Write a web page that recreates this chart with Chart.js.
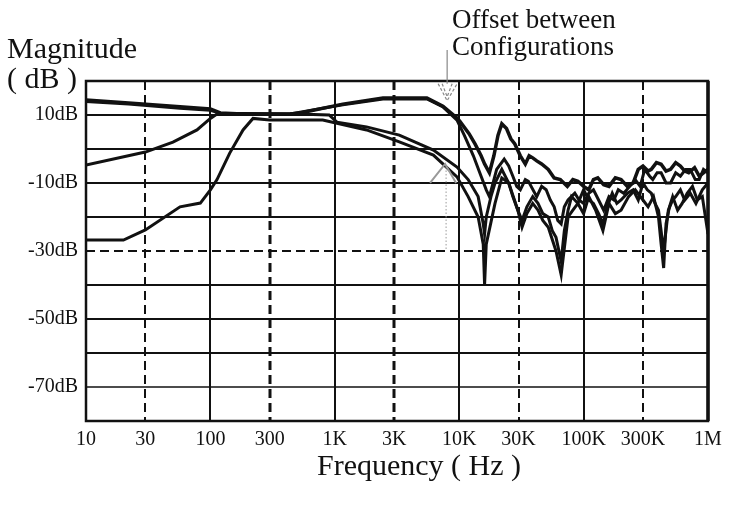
<!DOCTYPE html>
<html lang="en">
<head>
  <meta charset="UTF-8">
  <title>Magnitude vs Frequency</title>
  <script src="https://cdn.jsdelivr.net/npm/chart.js"></script>
  <style>
    body { margin: 0; background: #fff; }
    #wrap { width: 731px; height: 505px; }
  </style>
</head>
<body>
  <div id="wrap"><canvas id="magChart" width="731" height="505"></canvas></div>
<script>
// tick labels
const xTicks = [10, 30, 100, 300, 1000, 3000, 10000, 30000, 100000, 300000, 1000000];
const xTickLabels = ["10", "30", "100", "300", "1K", "3K", "10K", "30K", "100K", "300K", "1M"];
const yTicks = [10, -10, -30, -50, -70];
const yGrid = [10, 0, -10, -20, -30, -40, -50, -60, -70];

// trace A: thick upper curve
const freqA = [10, 22, 57, 100, 120, 200, 437, 526, 1160, 2440, 5500, 7400, 9600, 10100, 12000, 13400, 15000, 16000, 17500, 19000, 20500, 22000, 24000, 26000, 28000, 31000, 34000, 36500, 39000, 42000, 46000, 52000, 58000, 65000, 74000, 82000, 90000, 100000, 110000, 120000, 130000, 145000, 160000, 180000, 200000, 225000, 250000, 275000, 300000, 330000, 350000, 385000, 420000, 460000, 500000, 550000, 600000, 650000, 700000, 780000, 850000, 920000, 1000000];
const dbA = [14.4, 13.5, 12.4, 11.8, 10.6, 10.2, 10.3, 10.6, 13.2, 15, 15, 12.6, 9.1, 8.2, 4.5, 1.5, -2, -4.4, -7, -2, 4, 7.4, 6, 3, 1.5, -2, -4.4, -2, -2.6, -3.5, -4.4, -6, -8.5, -9, -11, -9, -9.5, -11, -12, -9, -8.5, -10.5, -11, -8.5, -9, -11, -10, -6, -5, -6.5, -6, -4, -4.5, -6.5, -6, -4, -5, -6.5, -7, -5.5, -8, -7, -6];

// trace D: runs with A at low frequency, splits off above 10K
const freqD = [10, 22, 57, 100, 120, 437, 1160, 2440, 5500, 7400, 9600, 11000, 13000, 15000, 16500, 17500, 20000, 23000, 25000, 27000, 29000, 31000, 34000, 36000, 42000, 46000, 50000, 54000, 58000, 62000, 66000, 70000, 75000, 85000, 92000, 100000, 110000, 120000, 132000, 145000, 160000, 175000, 190000, 210000, 235000, 260000, 285000, 310000, 340000, 360000, 390000, 420000, 460000, 500000, 550000, 600000, 660000, 720000, 790000, 850000, 920000, 1000000];
const dbD = [14, 13.2, 12, 11.4, 10.5, 10.3, 13, 14.7, 14.7, 12.4, 8.5, 4, -2, -8, -12, -14, -6, -3, -5, -8, -11, -12, -9, -9.5, -14, -11, -12, -15, -17, -21, -22, -17, -15, -13, -15, -16, -13, -12, -15, -18, -14, -15, -12, -13, -11, -9, -11, -6, -8, -9, -7, -7, -10, -10, -7, -8, -6, -6, -9, -9, -6, -7];

// trace B: starts near -5dB
const freqB = [10, 30, 50, 78, 100, 113, 200, 500, 900, 1040, 1800, 3300, 6200, 9600, 11800, 14200, 15600, 16000, 16500, 18000, 19400, 22000, 25000, 27000, 29600, 32000, 35000, 39000, 43000, 47000, 52000, 56000, 60000, 66000, 70000, 75000, 80000, 90000, 100000, 110000, 120000, 132000, 143000, 155000, 170000, 185000, 200000, 225000, 250000, 275000, 300000, 325000, 350000, 375000, 400000, 440000, 480000, 520000, 550000, 600000, 650000, 720000, 800000, 900000, 1000000];
const dbB = [-4.7, -0.9, 2, 5.6, 9, 10.3, 10.3, 10.3, 10, 7.9, 6.5, 4.1, -0.3, -5.3, -9, -14, -22, -25, -20, -14, -10, -6, -10, -14, -18, -21, -17, -14, -16, -19, -20, -24, -26, -33, -24, -18, -14, -16, -12, -15, -16, -19, -22, -17, -13, -16, -15, -13, -12, -15, -10, -12, -13, -16, -18, -30, -18, -15, -14, -12, -15, -13, -16, -12, -10];

// trace C: starts near -27dB
const freqC = [10, 20, 30, 57, 83, 100, 113, 143, 183, 220, 300, 520, 800, 1040, 1800, 3300, 6200, 9600, 11800, 14200, 15600, 16000, 16500, 19400, 22000, 25000, 29600, 32000, 35000, 39000, 43000, 47000, 52000, 60000, 66000, 68000, 75000, 82000, 90000, 100000, 110000, 125000, 143000, 160000, 180000, 200000, 230000, 260000, 300000, 330000, 365000, 400000, 420000, 440000, 460000, 490000, 520000, 570000, 620000, 680000, 750000, 820000, 900000, 1000000];
const dbC = [-26.8, -26.8, -23.8, -17, -15.9, -12, -9, -1.2, 5.6, 9, 8.5, 8.5, 8.5, 7.6, 5.6, 2.1, -1.8, -8.2, -14, -20, -28, -40, -28, -16, -8.5, -10, -18, -23, -19, -16, -18, -21, -23, -30, -37, -33, -20, -18, -16, -19, -14, -18, -24, -16, -19, -18, -14, -12, -15, -17, -14, -20, -28, -35, -22, -17, -14, -18, -16, -13, -11, -15, -14, -25];

const serif = '"Liberation Serif", "Times New Roman", serif';

function pts(f, d) { return f.map((v, i) => ({ x: v, y: d[i] })); }

function trace(f, d, w) {
  return { data: pts(f, d), showLine: true, borderColor: '#111', borderWidth: w, pointRadius: 0, tension: 0, fill: false };
}

// grid lines drawn by hand: solid decades, dashed 3x lines, dashed -30dB
const gridPlugin = {
  id: 'gridLines',
  beforeDatasetsDraw(chart) {
    const { ctx, chartArea: a, scales: { x, y } } = chart;
    ctx.save();
    ctx.strokeStyle = '#111';
    yGrid.forEach(v => {
      const py = Math.round(y.getPixelForValue(v));
      ctx.lineWidth = v === -70 ? 1.5 : 2;
      ctx.setLineDash(v === -30 ? [9, 5] : []);
      ctx.beginPath(); ctx.moveTo(a.left, py); ctx.lineTo(a.right, py); ctx.stroke();
    });
    xTicks.slice(1, -1).forEach(v => {
      const px = Math.round(x.getPixelForValue(v));
      const dashed = String(v)[0] === '3';
      ctx.lineWidth = (v === 300 || v === 3000) ? 3 : 2;
      ctx.setLineDash(dashed ? [9, 5] : []);
      ctx.beginPath(); ctx.moveTo(px, a.top); ctx.lineTo(px, a.bottom); ctx.stroke();
    });
    ctx.restore();
  },
  afterDatasetsDraw(chart) {
    const { ctx, chartArea: a, scales: { x, y } } = chart;
    ctx.save();
    ctx.strokeStyle = '#111';
    ctx.setLineDash([]);
    ctx.lineWidth = 2.5;
    ctx.strokeRect(a.left, a.top, a.right - a.left, a.bottom - a.top);
    ctx.lineWidth = 3.5;
    ctx.beginPath(); ctx.moveTo(a.right, a.top); ctx.lineTo(a.right, a.bottom); ctx.stroke();

    // titles
    ctx.fillStyle = '#111';
    ctx.font = '30px ' + serif;
    ctx.textAlign = 'left';
    ctx.textBaseline = 'alphabetic';
    ctx.fillText('Magnitude', 7, 58);
    ctx.fillText('( dB )', 7, 88);
    ctx.textAlign = 'center';
    ctx.fillText('Frequency ( Hz )', 419, 475);

    // annotation
    ctx.font = '27px ' + serif;
    ctx.textAlign = 'left';
    ctx.fillText('Offset between', 452, 28);
    ctx.fillText('Configurations', 452, 55);

    ctx.strokeStyle = '#888';
    ctx.lineWidth = 1.2;
    const ax = x.getPixelForValue(8000);
    const tip = y.getPixelForValue(14.2);
    ctx.beginPath(); ctx.moveTo(ax, 50); ctx.lineTo(ax, tip - 17); ctx.stroke();
    ctx.setLineDash([3, 2]);
    ctx.beginPath();
    ctx.moveTo(ax - 9, tip - 17); ctx.lineTo(ax, tip); ctx.lineTo(ax + 10, tip - 17);
    ctx.moveTo(ax - 5, tip - 17); ctx.lineTo(ax, tip - 4); ctx.lineTo(ax + 5, tip - 17);
    ctx.stroke();

    // upward arrow with dotted stem
    const bx = x.getPixelForValue(7700);
    const btip = y.getPixelForValue(-4.4);
    ctx.setLineDash([]);
    ctx.strokeStyle = '#999';
    ctx.lineWidth = 2;
    ctx.beginPath();
    ctx.moveTo(bx - 15, btip + 19); ctx.lineTo(bx, btip); ctx.lineTo(bx + 11, btip + 19);
    ctx.stroke();
    ctx.setLineDash([1.5, 2]);
    ctx.lineWidth = 1;
    ctx.beginPath(); ctx.moveTo(bx + 1, btip + 3); ctx.lineTo(bx + 1, y.getPixelForValue(-30)); ctx.stroke();
    ctx.restore();
  }
};

new Chart(document.getElementById('magChart'), {
  type: 'scatter',
  data: {
    datasets: [
      trace(freqC, dbC, 3),
      trace(freqB, dbB, 3),
      trace(freqD, dbD, 3),
      trace(freqA, dbA, 3.5)
    ]
  },
  options: {
    responsive: false,
    animation: false,
    layout: { padding: { top: 81, right: 23, left: 0, bottom: 0 } },
    plugins: { legend: { display: false }, tooltip: { enabled: false } },
    scales: {
      x: {
        type: 'logarithmic',
        min: 10,
        max: 1000000,
        grid: { display: false, drawTicks: false },
        border: { display: false },
        afterBuildTicks: s => { s.ticks = xTicks.map(v => ({ value: v })); },
        afterFit: s => { s.height = 84; },
        ticks: {
          autoSkip: false, maxRotation: 0, padding: 7,
          color: '#111', font: { family: serif, size: 20 },
          callback: (v) => xTickLabels[xTicks.indexOf(v)]
        }
      },
      y: {
        min: -80,
        max: 20,
        grid: { display: false, drawTicks: false },
        border: { display: false },
        afterBuildTicks: s => { s.ticks = yTicks.map(v => ({ value: v })); },
        afterFit: s => { s.width = 86; },
        ticks: {
          padding: 8,
          color: '#111', font: { family: serif, size: 20 },
          callback: v => v + 'dB'
        }
      }
    }
  },
  plugins: [gridPlugin]
});
</script>
</body>
</html>
